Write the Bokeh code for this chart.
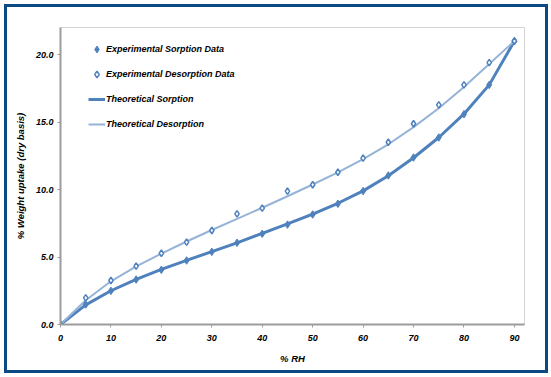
import numpy as np
from bokeh.plotting import figure
from bokeh.models import Legend, LegendItem, Range1d, FixedTicker, InlineStyleSheet
from bokeh.embed import file_html
from bokeh.resources import INLINE

# ---- data ----
rh = [0, 5, 10, 15, 20, 25, 30, 35, 40, 45, 50, 55, 60, 65, 70, 75, 80, 85, 90]
exp_sorption = [0.0, 1.48, 2.49, 3.33, 4.05, 4.74, 5.38, 6.05, 6.72, 7.40, 8.15, 8.94,
                9.88, 11.04, 12.37, 13.85, 15.58, 17.75, 20.99]
exp_desorption = [0.0, 1.97, 3.26, 4.32, 5.28, 6.10, 6.96, 8.20, 8.62, 9.88, 10.35, 11.28,
                  12.32, 13.50, 14.87, 16.27, 17.75, 19.40, 21.00]
theo_sorption = [0.0, 1.45, 2.50, 3.35, 4.08, 4.75, 5.40, 6.05, 6.75, 7.45, 8.18, 8.98,
                 9.90, 11.02, 12.35, 13.85, 15.60, 17.75, 21.00]
theo_desorption = [0.0, 1.80, 3.20, 4.30, 5.25, 6.15, 7.00, 7.82, 8.65, 9.50, 10.37, 11.27,
                   12.25, 13.35, 14.62, 16.02, 17.60, 19.30, 21.00]
x_ticks = [0, 10, 20, 30, 40, 50, 60, 70, 80, 90]
y_ticks = [0, 5, 10, 15, 20]
y_tick_labels = {0: "0.0", 5: "5.0", 10: "10.0", 15: "15.0", 20: "20.0"}

FONT = "Liberation Sans"
DARK = "#4f81bd"
LIGHT = "#95b3d7"

p = figure(width=538, height=363, frame_width=464, frame_height=297,
           min_border_left=53, min_border_right=21, min_border_top=20, min_border_bottom=46,
           x_range=Range1d(0, 92), y_range=Range1d(0, 22),
           output_backend="svg", toolbar_location=None,
           background_fill_color="white", border_fill_color="white")

p.stylesheets = [InlineStyleSheet(css=":host { border: 3px solid #0b4a84; position: absolute !important; left: 4px !important; top: 4px !important; }")]

p.outline_line_color = "#d4d4d4"
p.outline_line_width = 1
p.xgrid.visible = False
p.ygrid.visible = False

for ax in (p.xaxis[0], p.yaxis[0]):
    ax.axis_line_color = "#9c9c9c"
    ax.axis_line_width = 2
    ax.major_tick_line_color = "#9c9c9c"
    ax.major_tick_line_width = 1
    ax.major_tick_out = 3
    ax.major_tick_in = 0
    ax.minor_tick_line_color = None
    ax.major_label_text_font = FONT
    ax.major_label_text_font_size = "9px"
    ax.major_label_text_font_style = "bold italic"
    ax.major_label_text_color = "#000000"
    ax.axis_label_text_font = FONT
    ax.axis_label_text_font_size = "9.5px"
    ax.axis_label_text_font_style = "bold italic"
    ax.axis_label_text_color = "#000000"

p.xaxis.ticker = FixedTicker(ticks=x_ticks)
p.yaxis.ticker = FixedTicker(ticks=y_ticks)
p.yaxis.major_label_overrides = y_tick_labels
p.xaxis.axis_label = "% RH"
p.yaxis.axis_label = "% Weight uptake (dry basis)"
p.xaxis.major_label_standoff = 7
p.yaxis.major_label_standoff = 4
p.xaxis.axis_label_standoff = 9
p.yaxis.axis_label_standoff = 7

r_ts = p.line(rh, theo_sorption, line_color=DARK, line_width=3)
r_td = p.line(rh, theo_desorption, line_color=LIGHT, line_width=2)
r_es = p.scatter(rh, exp_sorption, marker="diamond", size=7.5,
                 fill_color=DARK, line_color=DARK, line_width=1)
r_ed = p.scatter(rh, exp_desorption, marker="diamond", size=6.5,
                 fill_color="white", line_color=DARK, line_width=1.5)

legend = Legend(items=[
    LegendItem(label="Experimental Sorption Data", renderers=[r_es]),
    LegendItem(label="Experimental Desorption Data", renderers=[r_ed]),
    LegendItem(label="Theoretical Sorption", renderers=[r_ts]),
    LegendItem(label="Theoretical Desorption", renderers=[r_td]),
], location=(28, 190))
legend.margin = 0
legend.padding = 0
legend.spacing = 5
legend.glyph_width = 17
legend.glyph_height = 20
legend.label_height = 20
legend.label_standoff = 1
legend.label_text_font = FONT
legend.label_text_font_size = "9px"
legend.label_text_font_style = "bold italic"
legend.label_text_color = "#000000"
legend.border_line_color = None
legend.background_fill_alpha = 0
p.add_layout(legend, "center")

open("out.html", "w").write(file_html(p, INLINE))
